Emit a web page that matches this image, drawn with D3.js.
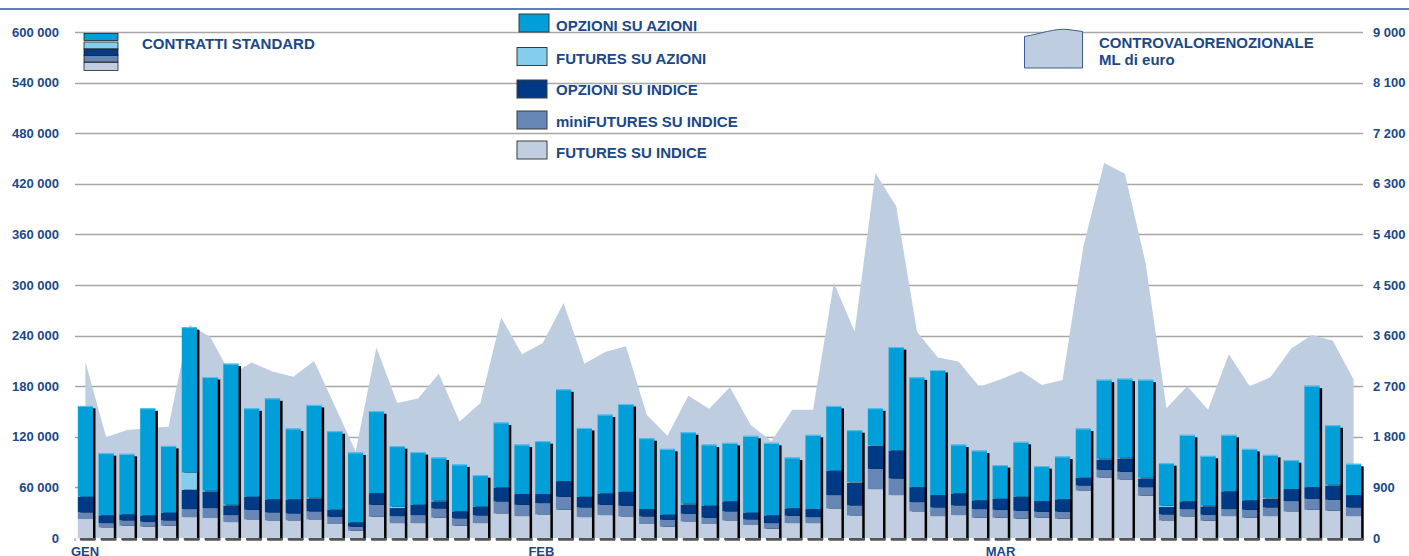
<!DOCTYPE html>
<html>
<head>
<meta charset="utf-8">
<script src="https://cdn.jsdelivr.net/npm/d3@7"></script>
<style>
  html, body { margin: 0; padding: 0; background: #fff; }
  svg { display: block; font-family: "Liberation Sans", Arial, sans-serif; font-weight: bold; }
</style>
</head>
<body>
<svg id="chart" width="1409" height="556"></svg>
<script>
// months shown on the x axis and trading days in each
var months = ['GEN', 'FEB', 'MAR']
var daysPerMonth = [22, 22, 18]

var leftTicks = [0, 60000, 120000, 180000, 240000, 300000, 360000, 420000, 480000, 540000, 600000]
var rightTicks = [0, 900, 1800, 2700, 3600, 4500, 5400, 6300, 7200, 8100, 9000]

// contratti standard, one value per trading day (stacked bottom -> top)
var futuresIndice = [22500, 12600, 14600, 13400, 14600, 24800, 23700, 18900, 22100, 20900, 20900, 22100, 16600, 8700, 25200, 17700, 17700, 24100, 14600, 17700, 29200, 26000,
  28000, 33500, 24800, 27200, 25600, 16600, 13400, 19700, 16600, 20900, 15400, 11000, 17700, 17700, 35100, 26800, 58000, 50900, 31600, 26000,
  27200, 24100, 24100, 22900, 24100, 22900, 56400, 71800, 69400, 50100, 20900, 25600, 20500, 26000, 24100, 26000, 31600, 33500, 32300, 26000]
var miniFuturesIndice = [7900, 5100, 6300, 5900, 6300, 9500, 11800, 8300, 11400, 9500, 8300, 9500, 8600, 4700, 14200, 8300, 9500, 11000, 8700, 9100, 14200, 13400,
  13400, 15400, 11500, 12200, 12700, 9000, 8300, 9100, 7500, 10700, 6700, 6700, 8700, 7100, 15800, 11900, 24000, 19700, 11000, 10300,
  11500, 10200, 9400, 9400, 7100, 8300, 5900, 9100, 9100, 10200, 7100, 8700, 7100, 8300, 9400, 10300, 12200, 13000, 13100, 10300]
var opzioniIndice = [18500, 9100, 7100, 7500, 9100, 22900, 19700, 11500, 15400, 15400, 16600, 15300, 8300, 5100, 13800, 9500, 12200, 8300, 8300, 10300, 16500, 12700,
  10700, 18500, 12600, 13400, 16500, 8700, 5900, 11000, 14200, 11800, 7900, 9100, 8700, 9500, 28800, 26800, 27200, 33100, 17700, 14600,
  14100, 10300, 13000, 16600, 12600, 14600, 9100, 12200, 15800, 10300, 8700, 9100, 9900, 20900, 11100, 10200, 14200, 13800, 16900, 14600]
var futuresAzioni = [0, 0, 0, 0, 0, 20500, 1000, 800, 0, 0, 0, 1000, 0, 0, 0, 1600, 0, 800, 0, 0, 0, 0,
  0, 0, 0, 0, 0, 0, 0, 800, 0, 0, 0, 0, 0, 0, 0, 800, 800, 0, 0, 0,
  0, 0, 0, 0, 0, 0, 0, 800, 800, 1000, 1600, 0, 800, 0, 0, 800, 0, 0, 800, 0]
var opzioniAzioni = [107700, 73800, 71800, 127000, 79200, 172300, 134700, 167200, 104900, 119800, 84000, 109900, 93100, 82900, 97100, 71800, 62400, 51200, 55600, 37400, 77000, 58700,
  62700, 108900, 81600, 93500, 104100, 84000, 78100, 84800, 72500, 69400, 91100, 86000, 60300, 88000, 76900, 61500, 43800, 122700, 130200, 148300,
  58000, 59100, 39900, 65100, 41400, 50800, 58400, 93800, 93800, 116100, 50400, 78900, 59100, 67100, 61100, 51300, 34300, 120300, 70600, 37100]

// controvalore nozionale, ML di euro (right axis)
var controvalore = [3130, 1790, 1920, 1950, 1980, 3790, 3580, 2900, 3120, 2960, 2870, 3150, 2350, 1540, 3390, 2400, 2480, 2920, 2070, 2400, 3920, 3270,
  3470, 4180, 3100, 3310, 3410, 2190, 1820, 2530, 2300, 2680, 2010, 1720, 2280, 2280, 4540, 3670, 6490, 5900, 3670, 3210,
  3140, 2690, 2820, 2970, 2720, 2810, 5180, 6670, 6480, 4880, 2310, 2700, 2280, 3270, 2700, 2860, 3370, 3610, 3510, 2820]

var seriesKeys = ['futuresIndice', 'miniFuturesIndice', 'opzioniIndice', 'futuresAzioni', 'opzioniAzioni']
var seriesData = {
  futuresIndice: futuresIndice,
  miniFuturesIndice: miniFuturesIndice,
  opzioniIndice: opzioniIndice,
  futuresAzioni: futuresAzioni,
  opzioniAzioni: opzioniAzioni
}
var color = {
  opzioniAzioni: '#009fda',
  futuresAzioni: '#84cdec',
  opzioniIndice: '#003a84',
  miniFuturesIndice: '#6686b6',
  futuresIndice: '#c1cee1'
}
var textColor = '#1a4889'

// build the day categories from the months
var days = []
var monthStart = []
daysPerMonth.forEach(function(n, m) {
  monthStart.push(days.length)
  for (var k = 1; k <= n; k++) days.push(months[m] + ' ' + k)
})

var rows = days.map(function(d, i) {
  var r = { day: d }
  seriesKeys.forEach(function(k) { r[k] = seriesData[k][i] })
  return r
})

var svg = d3.select('#chart')

var x = d3.scaleBand()
  .domain(days)
  .range([75, 1364])
  .paddingInner(0.27)
  .paddingOuter(0.135)
var yL = d3.scaleLinear().domain([0, 600000]).range([538, 32])
var yR = d3.scaleLinear().domain([0, 9000]).range([538, 32])

var fmt = d3.formatLocale({ decimal: ',', thousands: ' ', grouping: [3], currency: ['', '€'] }).format(',d')

// top rule
svg.append('line')
  .attr('x1', 0).attr('x2', 1409)
  .attr('y1', 9).attr('y2', 9)
  .attr('stroke', '#5f7fb6')
  .attr('stroke-width', 2)

// gridlines
svg.append('g')
  .selectAll('line')
  .data(leftTicks.filter(function(t) { return t > 0 }))
  .enter()
  .append('line')
  .attr('x1', 75).attr('x2', 1363)
  .attr('y1', function(d) { return Math.round(yL(d)) + 0.5 })
  .attr('y2', function(d) { return Math.round(yL(d)) + 0.5 })
  .attr('stroke', '#a6a6a6')
  .attr('stroke-width', 1.4)

// area, behind the bars
var half = x.bandwidth() / 2
var area = d3.area()
  .x(function(d, i) { return x(days[i]) + half })
  .y0(yR(0))
  .y1(function(d) { return yR(d) })
svg.append('path')
  .datum(controvalore)
  .attr('d', area)
  .attr('fill', '#bfcde0')

// stacked bars
var stack = d3.stack().keys(seriesKeys)
var stacked = stack(rows)
var bw = x.bandwidth()

// shadow
var shadow = svg.append('g')
shadow.selectAll('rect.sh')
  .data(rows)
  .enter()
  .append('rect')
  .attr('x', function(d) { return x(d.day) + 2.5 })
  .attr('y', function(d, i) { return yL(stacked[stacked.length - 1][i][1]) + 2.5 })
  .attr('width', bw)
  .attr('height', function(d, i) { return yL(0) - yL(stacked[stacked.length - 1][i][1]) })
  .attr('fill', '#000')
shadow.selectAll('rect.base')
  .data(rows)
  .enter()
  .append('rect')
  .attr('x', function(d) { return x(d.day) + 2 })
  .attr('y', yL(0))
  .attr('width', bw + 0.5)
  .attr('height', 2)
  .attr('fill', '#555')

svg.append('g')
  .selectAll('g')
  .data(stacked)
  .enter()
  .append('g')
  .attr('fill', function(s) { return color[s.key] })
  .selectAll('rect')
  .data(function(s) { return s })
  .enter()
  .append('rect')
  .attr('x', function(d) { return x(d.data.day) })
  .attr('y', function(d) { return yL(d[1]) })
  .attr('width', bw)
  .attr('height', function(d) { return yL(d[0]) - yL(d[1]) })

// thin highlight on bar tops
svg.append('g')
  .selectAll('line')
  .data(stacked[stacked.length - 1])
  .enter()
  .append('line')
  .attr('x1', function(d) { return x(d.data.day) })
  .attr('x2', function(d) { return x(d.data.day) + bw })
  .attr('y1', function(d) { return yL(d[1]) + 0.5 })
  .attr('y2', function(d) { return yL(d[1]) + 0.5 })
  .attr('stroke', '#5cc2ea')
  .attr('stroke-width', 1)

// left axis
var axL = svg.append('g')
  .attr('transform', 'translate(62,0)')
  .call(d3.axisLeft(yL).tickValues(leftTicks).tickSize(0).tickPadding(3).tickFormat(fmt))
axL.select('.domain').remove()
axL.selectAll('text')
  .attr('fill', textColor)
  .style('font-size', '13px')
  .style('font-family', '"Liberation Sans", Arial, sans-serif')
  .style('font-weight', 'bold')

// right axis
var axR = svg.append('g')
  .attr('transform', 'translate(1370,0)')
  .call(d3.axisRight(yR).tickValues(rightTicks).tickSize(0).tickPadding(3).tickFormat(fmt))
axR.select('.domain').remove()
axR.selectAll('text')
  .attr('fill', textColor)
  .style('font-size', '13px')
  .style('font-family', '"Liberation Sans", Arial, sans-serif')
  .style('font-weight', 'bold')

// month ticks + labels
var step = x.step()
var monthX = function(i) { return x(days[i]) - step * 0.135 }
var xg = svg.append('g')
xg.selectAll('line')
  .data(monthStart)
  .enter()
  .append('line')
  .attr('x1', function(d) { return monthX(d) })
  .attr('x2', function(d) { return monthX(d) })
  .attr('y1', yL(0))
  .attr('y2', yL(0) + 3)
  .attr('stroke', '#888')
  .attr('stroke-width', 1)
xg.selectAll('text')
  .data(monthStart)
  .enter()
  .append('text')
  .attr('x', function(d) { return monthX(d) - 4 })
  .attr('y', 555.5)
  .attr('fill', textColor)
  .style('font-size', '13px')
  .text(function(d, i) { return months[i] })

// legend: left icon
var iconRows = [
  { key: 'opzioniAzioni', y: 33.5, h: 7 },
  { key: 'futuresAzioni', y: 42, h: 7 },
  { key: 'opzioniIndice', y: 49, h: 6.5 },
  { key: 'miniFuturesIndice', y: 55.5, h: 6.5 },
  { key: 'futuresIndice', y: 62.5, h: 8 }
]
svg.append('g')
  .selectAll('rect')
  .data(iconRows)
  .enter()
  .append('rect')
  .attr('x', 84).attr('width', 34)
  .attr('y', function(d) { return d.y })
  .attr('height', function(d) { return d.h })
  .attr('fill', function(d) { return color[d.key] })
  .attr('stroke', '#222')
  .attr('stroke-width', 0.8)
svg.append('text')
  .attr('x', 142).attr('y', 49)
  .attr('fill', textColor)
  .style('font-size', '15px')
  .text('CONTRATTI STANDARD')

// legend: series
var legendItems = [
  { key: 'opzioniAzioni', label: 'OPZIONI SU AZIONI', sx: 519, sy: 14, ty: 30.5 },
  { key: 'futuresAzioni', label: 'FUTURES SU AZIONI', sx: 517, sy: 47.5, ty: 64 },
  { key: 'opzioniIndice', label: 'OPZIONI SU INDICE', sx: 517, sy: 80, ty: 95 },
  { key: 'miniFuturesIndice', label: 'miniFUTURES SU INDICE', sx: 517, sy: 111, ty: 126.5 },
  { key: 'futuresIndice', label: 'FUTURES SU INDICE', sx: 517, sy: 141, ty: 157.5 }
]
var lg = svg.append('g')
lg.selectAll('rect')
  .data(legendItems)
  .enter()
  .append('rect')
  .attr('x', function(d) { return d.sx })
  .attr('y', function(d) { return d.sy })
  .attr('width', 30)
  .attr('height', 18)
  .attr('fill', function(d) { return color[d.key] })
  .attr('stroke', '#3a3a3a')
  .attr('stroke-width', 1)
lg.selectAll('text')
  .data(legendItems)
  .enter()
  .append('text')
  .attr('x', 556)
  .attr('y', function(d) { return d.ty })
  .attr('fill', textColor)
  .style('font-size', '15px')
  .text(function(d) { return d.label })

// legend: area
svg.append('path')
  .attr('d', 'M1024.5,68 L1024.5,36.5 C1040,34 1055,28 1068,29.5 L1082.5,31.5 L1082.5,68 Z')
  .attr('fill', '#bfcde0')
  .attr('stroke', '#3d5c95')
  .attr('stroke-width', 1)
svg.append('text')
  .attr('x', 1099).attr('y', 47.5)
  .attr('fill', textColor)
  .style('font-size', '15px')
  .text('CONTROVALORENOZIONALE')
svg.append('text')
  .attr('x', 1099).attr('y', 64.5)
  .attr('fill', textColor)
  .style('font-size', '15px')
  .text('ML di euro')
</script>
</body>
</html>
